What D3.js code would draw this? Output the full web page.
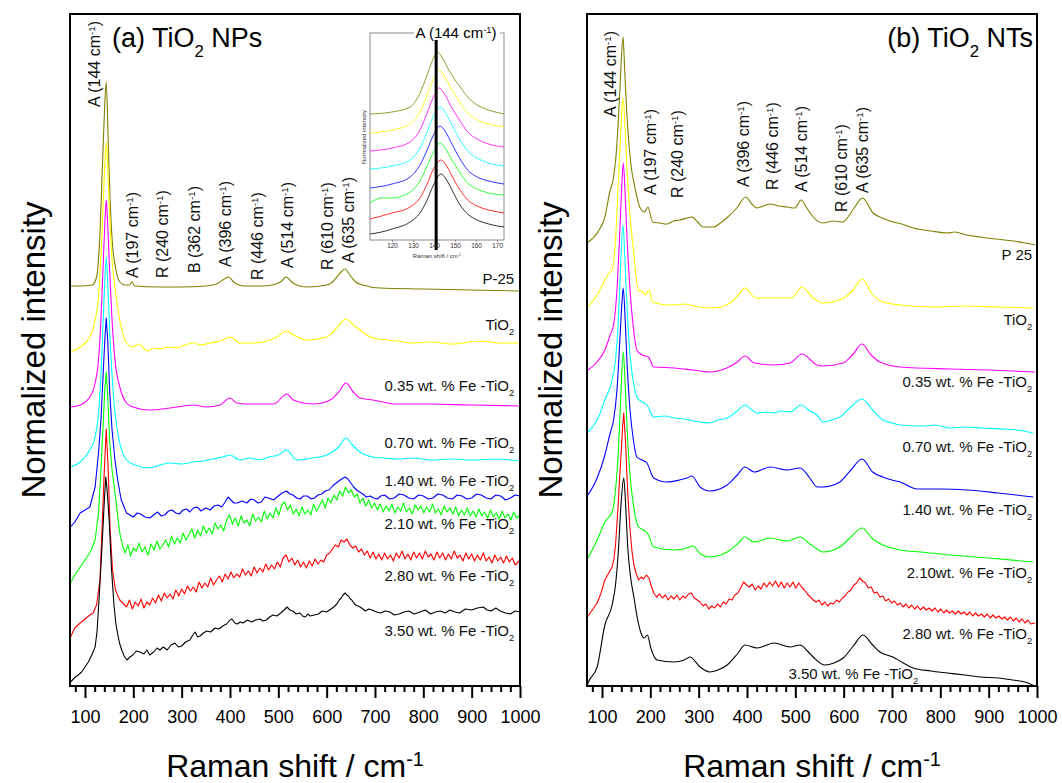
<!DOCTYPE html>
<html>
<head>
<meta charset="utf-8">
<script src="https://cdn.jsdelivr.net/npm/d3@7"></script>
<style>
	body { margin: 0; background: #fff; }
	svg { display: block; font-family: "Liberation Sans", Arial, sans-serif; }
</style>
</head>
<body>
<svg id="chart" width="1062" height="783"></svg>
<script>
/*-------------------------------------------------------*/
/*--------- data: [Raman shift (cm-1), intensity] -------*/
/*-------------------------------------------------------*/

// (a) TiO2 NPs
const npP25 = [[70,400],[90,400],[115,401],[124,409],[131,453],[136,519],[140,571],[144,604],[148,546],[152,486],[157,441],[163,419],[172,404],[183,401],[192,401],[197,404],[203,400],[250,399],[300,399],[350,400],[372,402],[385,406],[396,409],[410,403],[430,400],[470,400],[495,402],[507,405],[516,409],[530,403],[559,399],[600,401],[612,404],[628,413],[638,417],[648,411],[660,404],[675,401],[710,398],[800,397],[900,396],[1000,395]]
const npTiO2 = [[70,334],[90,339],[110,349],[121,366],[128,389],[133,431],[138,486],[141,521],[144,544],[147,521],[151,471],[156,426],[162,399],[172,366],[186,343],[199,339],[212,342],[228,335],[242,338],[255,337],[272,339],[290,338],[307,341],[324,343],[340,341],[359,343],[380,345],[400,349],[421,343],[448,343],[476,345],[497,349],[517,355],[531,351],[559,346],[600,349],[621,358],[640,367],[655,361],[669,356],[696,348],[745,345],[780,343],[814,344],[860,342],[917,345],[960,343],[1000,343]]
const npFe035 = [[70,279],[90,281],[110,289],[121,303],[128,326],[133,366],[138,426],[141,461],[144,486],[147,461],[151,416],[156,366],[162,326],[172,299],[186,283],[199,279],[234,276],[276,278],[324,281],[352,279],[379,281],[400,288],[414,283],[435,282],[490,282],[518,292],[531,286],[572,282],[607,286],[625,294],[640,303],[655,294],[669,288],[696,286],[745,282],[814,282],[900,281],[1000,280]]
const npFe070 = [[70,219],[90,224],[110,236],[121,249],[128,273],[133,311],[138,371],[141,406],[144,428],[147,404],[151,356],[156,311],[162,273],[172,243],[186,226],[203,221],[234,218],[255,221],[276,223],[300,222],[324,224],[345,225],[365,227],[385,229],[400,231],[421,226],[440,228],[462,226],[480,229],[500,231],[517,236],[538,226],[570,228],[600,231],[625,239],[640,248],[655,240],[669,234],[696,229],[720,228],[750,227],[780,228],[814,226],[860,227],[900,226],[950,227],[1000,225]]
const npFe140 = [[70,159],[79,164],[90,173],[110,179],[121,199],[128,233],[133,266],[138,316],[141,346],[144,368],[147,346],[151,296],[156,256],[162,226],[168,205],[175,186],[186,173],[193,171],[200,169],[208,173],[215,172],[224,169],[234,168],[242,171],[250,174],[258,170],[265,171],[273,175],[280,176],[288,173],[295,172],[303,176],[310,177],[317,174],[324,178],[332,179],[340,175],[350,178],[359,176],[367,180],[375,181],[383,179],[390,184],[396,189],[402,186],[408,183],[415,183],[425,185],[435,183],[443,187],[450,186],[458,183],[465,184],[472,189],[480,188],[490,186],[500,190],[508,193],[517,195],[524,192],[530,191],[538,188],[545,187],[552,190],[560,190],[568,187],[575,188],[582,191],[590,192],[597,195],[605,196],[612,200],[620,203],[628,206],[638,209],[644,207],[650,203],[656,199],[662,196],[668,194],[675,192],[682,189],[690,190],[697,188],[705,187],[712,190],[720,191],[730,187],[740,188],[750,192],[760,191],[770,188],[780,187],[790,191],[800,190],[810,187],[820,188],[830,192],[840,191],[850,188],[860,187],[870,191],[880,190],[890,187],[900,188],[910,192],[920,191],[930,188],[940,187],[950,191],[960,190],[970,186],[980,188],[990,191],[1000,190]]
const npFe210 = [[70,103],[79,111],[90,119],[110,133],[121,146],[128,173],[133,216],[138,266],[141,296],[144,314],[147,291],[151,246],[156,216],[162,193],[172,153],[178,140],[183,133],[189,141],[194,130],[200,138],[206,135],[212,143],[218,134],[224,139],[230,131],[237,142],[243,136],[249,145],[255,137],[261,141],[267,146],[273,139],[279,150],[285,142],[291,148],[297,143],[303,153],[309,146],[315,151],[321,157],[327,148],[333,156],[339,150],[345,160],[351,153],[357,158],[363,152],[369,163],[375,157],[381,161],[387,155],[393,166],[399,171],[405,162],[411,168],[417,160],[423,170],[429,163],[435,166],[441,160],[447,172],[453,165],[459,169],[465,164],[471,175],[477,167],[483,173],[489,168],[495,178],[501,171],[507,181],[513,184],[519,176],[525,181],[531,172],[537,177],[543,170],[549,179],[555,172],[561,176],[567,171],[573,182],[579,175],[585,180],[591,186],[597,178],[603,188],[609,183],[615,191],[621,186],[627,195],[633,190],[639,199],[645,193],[651,196],[657,189],[663,192],[669,183],[675,188],[681,180],[687,186],[693,178],[699,183],[705,176],[711,182],[717,174],[723,180],[729,175],[735,182],[741,173],[747,179],[753,175],[759,183],[765,174],[771,178],[777,172],[783,181],[789,176],[795,180],[801,173],[807,179],[813,174],[819,182],[825,173],[831,177],[837,171],[843,180],[849,174],[855,178],[861,172],[867,179],[873,170],[879,176],[885,171],[891,178],[897,170],[903,175],[909,169],[915,177],[921,170],[927,174],[933,168],[939,176],[945,169],[951,173],[957,167],[963,175],[969,168],[975,172],[981,166],[987,174],[993,168],[1000,171]]
const npFe280 = [[70,49],[79,58],[90,63],[110,71],[117,73],[124,81],[131,106],[136,166],[140,216],[144,257],[148,216],[152,156],[157,116],[163,96],[172,86],[180,82],[186,79],[192,86],[198,77],[204,84],[210,80],[216,87],[222,78],[228,84],[234,81],[240,88],[246,83],[252,91],[258,85],[264,93],[270,88],[276,92],[282,87],[288,96],[294,90],[300,97],[306,92],[312,100],[318,95],[324,99],[330,94],[336,104],[342,98],[348,103],[354,99],[360,108],[366,101],[372,106],[378,110],[384,104],[390,112],[396,107],[402,114],[408,108],[414,112],[420,109],[426,117],[432,111],[438,115],[444,110],[450,119],[456,113],[462,118],[468,114],[474,122],[480,116],[486,121],[492,117],[498,124],[504,119],[510,128],[516,131],[522,124],[528,128],[534,121],[540,126],[546,119],[552,124],[558,118],[564,125],[570,120],[576,127],[582,122],[588,126],[594,124],[600,131],[606,133],[612,137],[618,141],[624,139],[630,146],[636,144],[642,147],[648,141],[654,138],[660,140],[666,134],[672,137],[678,131],[684,135],[690,128],[696,134],[702,127],[708,132],[714,126],[720,133],[726,127],[732,131],[738,125],[744,133],[750,128],[756,135],[762,127],[768,132],[774,126],[780,134],[786,128],[792,133],[798,127],[804,135],[810,129],[816,132],[822,126],[828,134],[834,128],[840,133],[846,126],[852,132],[858,127],[864,135],[870,128],[876,131],[882,125],[888,133],[894,127],[900,132],[906,125],[912,131],[918,126],[924,133],[930,125],[936,129],[942,123],[948,131],[954,125],[960,129],[966,123],[972,130],[978,124],[984,128],[990,121],[1000,126]]
const npFe350 = [[70,4],[74,6],[80,9],[86,11],[93,14],[100,19],[107,24],[114,31],[121,39],[125,55],[129,86],[133,120],[137,156],[140,185],[143,209],[146,195],[150,166],[155,116],[160,81],[164,62],[168,51],[172,42],[176,36],[181,30],[187,26],[193,29],[199,31],[206,35],[214,34],[222,32],[228,36],[234,31],[242,34],[249,38],[255,36],[262,39],[270,36],[278,41],[286,43],[293,39],[300,40],[308,44],[317,46],[323,51],[328,54],[333,49],[338,50],[345,53],[352,55],[360,54],[369,58],[377,57],[385,60],[393,62],[400,66],[404,67],[410,63],[415,62],[421,64],[427,63],[436,66],[445,64],[453,66],[462,67],[468,65],[475,66],[482,69],[489,71],[497,70],[505,73],[512,76],[518,79],[524,76],[530,75],[537,72],[545,73],[550,70],[556,69],[561,72],[566,70],[574,71],[583,72],[591,75],[600,74],[606,76],[612,78],[617,80],[621,82],[626,86],[630,88],[634,91],[638,93],[642,91],[645,90],[649,87],[652,86],[656,83],[660,81],[665,80],[669,79],[675,77],[680,75],[687,77],[694,76],[703,74],[712,73],[721,75],[731,74],[740,71],[750,72],[760,74],[770,75],[781,72],[793,74],[804,76],[815,72],[825,74],[835,75],[845,73],[855,76],[865,74],[875,73],[887,77],[900,76],[912,78],[924,79],[932,76],[940,75],[950,78],[959,75],[970,73],[980,72],[990,75],[1000,74]]

// (b) TiO2 NTs
const ntP25 = [[69,443],[90,453],[106,469],[117,496],[123,506],[130,536],[136,586],[140,626],[143.5,649],[147,616],[151,576],[154,553],[160,521],[168,499],[179,478],[188,474],[195,479],[205,464],[220,463],[234,462],[248,465],[261,466],[286,469],[298,464],[309,459],[330,459],[345,463],[358,468],[379,478],[397,489],[410,482],[420,478],[448,482],[465,480],[483,479],[499,478],[512,486],[525,477],[537,469],[557,463],[578,465],[598,464],[619,476],[639,488],[661,473],[680,468],[702,464],[720,462],[744,458],[780,455],[814,453],[830,454],[855,451],[882,449],[915,447],[951,445],[975,443],[996,441]]
const ntTiO2 = [[71,379],[90,391],[106,406],[117,414],[121,416],[128,446],[134,506],[139,556],[143.5,588],[148,556],[152,516],[158,471],[165,436],[175,396],[187,393],[190,391],[197,396],[205,384],[240,381],[270,382],[300,379],[330,378],[365,383],[380,390],[396,398],[418,388],[460,388],[492,388],[514,399],[537,388],[559,383],[600,388],[620,396],[638,407],[660,391],[681,384],[717,381],[785,379],[850,380],[920,379],[992,378]]
const ntFe035 = [[71,316],[90,324],[106,336],[117,351],[124,361],[131,396],[137,456],[141,501],[144,523],[148,491],[152,446],[158,396],[165,358],[172,336],[183,331],[196,329],[207,319],[249,318],[287,316],[323,314],[358,318],[380,324],[396,330],[415,323],[456,321],[489,323],[514,332],[545,321],[557,320],[599,323],[620,332],[638,342],[655,332],[675,324],[717,319],[820,317],[900,316],[996,314]]
const ntFe070 = [[71,254],[90,266],[106,286],[121,306],[128,326],[134,366],[139,426],[143.5,461],[148,421],[152,376],[158,331],[165,304],[172,289],[183,284],[193,281],[207,269],[230,270],[249,268],[270,267],[290,265],[305,264],[323,263],[340,266],[359,268],[380,275],[396,281],[410,276],[421,273],[440,274],[456,273],[470,275],[489,274],[512,281],[530,275],[545,271],[557,264],[575,266],[592,269],[615,279],[638,287],[660,276],[681,266],[700,263],[717,261],[760,260],[790,261],[820,258],[850,259],[888,258],[930,257],[960,256],[992,253]]
const ntFe140 = [[71,191],[90,208],[106,231],[117,253],[124,266],[131,296],[137,346],[141,381],[144,398],[148,366],[152,321],[158,276],[165,246],[172,229],[183,226],[193,223],[207,208],[234,204],[260,206],[276,208],[286,210],[303,199],[323,195],[359,201],[380,211],[396,219],[415,214],[448,219],[483,216],[510,218],[530,208],[545,199],[557,199],[592,204],[615,216],[638,227],[660,214],[681,209],[700,206],[717,204],[752,197],[800,197],[855,196],[920,193],[992,189]]
const ntFe210 = [[71,128],[90,146],[106,164],[121,174],[128,196],[134,236],[139,291],[144,334],[148,301],[152,256],[158,211],[165,181],[176,159],[186,156],[195,152],[207,139],[249,136],[276,138],[288,140],[304,132],[323,129],[359,134],[380,142],[396,149],[414,144],[448,148],[483,145],[510,149],[530,142],[545,137],[557,134],[592,139],[615,149],[638,158],[660,147],[681,141],[717,136],[760,134],[820,131],[900,128],[992,124]]
const ntFe280 = [[70,69],[80,76],[90,83],[98,93],[106,106],[114,113],[121,119],[125,128],[128,141],[131,162],[134,186],[137,212],[140,236],[142.5,258],[145,273],[147,258],[149,241],[151,218],[153,196],[156,172],[159,151],[162,135],[166,121],[171,112],[176,106],[181,109],[186,107],[192,111],[197,108],[202,100],[207,93],[213,89],[219,92],[225,88],[231,91],[237,86],[243,90],[249,87],[255,91],[261,86],[267,90],[273,88],[279,92],[285,93],[291,88],[297,86],[303,84],[309,80],[315,82],[321,77],[327,80],[333,78],[339,82],[345,79],[351,84],[357,82],[363,87],[369,86],[375,91],[381,93],[387,98],[393,104],[399,101],[405,99],[411,102],[417,96],[423,100],[429,97],[435,103],[441,99],[447,104],[453,100],[459,105],[465,99],[471,104],[477,98],[483,103],[489,99],[495,104],[501,98],[507,103],[513,99],[519,96],[525,92],[531,89],[537,86],[543,84],[549,86],[555,81],[561,84],[567,80],[573,83],[579,82],[585,86],[591,84],[597,88],[603,90],[609,94],[615,96],[621,101],[627,103],[633,108],[639,105],[645,103],[651,98],[657,99],[663,93],[669,94],[675,89],[681,90],[687,85],[693,87],[699,83],[705,85],[711,81],[717,83],[723,79],[729,82],[735,78],[741,81],[747,77],[753,80],[759,76],[765,79],[771,76],[777,78],[783,75],[789,78],[795,74],[801,77],[807,73],[813,76],[819,73],[825,75],[831,72],[837,75],[843,72],[849,74],[855,71],[861,74],[867,70],[873,73],[879,70],[885,72],[891,69],[897,72],[903,68],[909,71],[915,68],[921,70],[927,67],[933,69],[939,66],[945,69],[951,65],[957,68],[963,64],[969,67],[975,63],[981,66],[987,62],[996,63]]
const ntFe350 = [[69,0],[71,3],[90,19],[106,61],[121,81],[128,101],[134,136],[140,186],[145,208],[149,181],[153,141],[160,106],[166,89],[172,71],[180,54],[187,48],[194,51],[201,38],[214,26],[249,24],[270,26],[282,29],[303,19],[323,14],[340,16],[359,21],[380,32],[396,41],[421,38],[456,43],[489,39],[510,41],[525,35],[537,29],[561,21],[580,23],[599,28],[620,40],[640,51],[660,41],[675,34],[702,29],[720,24],[744,18],[780,15],[814,13],[850,11],[882,9],[920,8],[950,6],[975,4],[996,0]]

// inset of (a): zoom on the 144 cm-1 band
const insetP25 = [[109.5,126],[120,128],[128.6,133],[133.3,147],[136.7,165],[139,178],[141.4,188],[144,182],[147,170],[152.4,153],[156,143],[160.5,135],[166,130],[173.3,126]]
const insetTiO2 = [[109.5,107],[120,110],[128.6,116],[133.3,128],[136.7,145],[139.5,160],[142.4,170],[145,164],[148,152],[152.4,137],[156,127],[160.5,120],[166,116],[173.3,113]]
const insetFe035 = [[109.5,89],[120,92],[128.6,98],[133.3,110],[136.7,127],[139.5,142],[142.4,152],[145,146],[148,134],[152.4,119],[156,108],[160.5,101],[166,96],[173.3,93]]
const insetFe070 = [[109.5,71],[120,74],[128.6,80],[133.3,92],[136.7,108],[139.5,123],[142.9,133],[145.5,127],[148.5,115],[152.4,100],[156,89],[160.5,82],[166,77],[173.3,74]]
const insetFe140 = [[109.5,52],[120,56],[128.6,63],[133.3,75],[136.7,90],[139.5,104],[142.9,114],[145.5,108],[148.5,96],[152.4,81],[156,70],[160.5,63],[166,59],[173.3,56]]
const insetFe210 = [[109.5,37],[115,42],[120,42],[128.6,48],[133.3,59],[136.7,74],[139.5,87],[142.9,97],[145.5,91],[148.5,80],[152.4,67],[156,57],[160.5,51],[166,47],[173.3,45]]
const insetFe280 = [[109.5,21],[120,27],[128.6,33],[133.3,42],[136.7,56],[139.5,70],[143.3,80],[146,74],[149,62],[152.4,50],[156,40],[160.5,34],[166,30],[173.3,27]]
const insetFe350 = [[109.5,6],[115,8],[120,11],[128.6,18],[133.3,27],[136.7,40],[139.5,54],[143.3,66],[146,60],[149,48],[152.4,35],[156,26],[160.5,20],[166,16],[173.3,13]]
const insetMarker = 141

const seriesColors = ['#808000', '#ffff00', '#ff00ff', '#00ffff', '#0000ff', '#00ff00', '#ff0000', '#000000']
const npSeries = [npP25, npTiO2, npFe035, npFe070, npFe140, npFe210, npFe280, npFe350]
const ntSeries = [ntP25, ntTiO2, ntFe035, ntFe070, ntFe140, ntFe210, ntFe280, ntFe350]
const insetSeries = [insetP25, insetTiO2, insetFe035, insetFe070, insetFe140, insetFe210, insetFe280, insetFe350]

const npNames = ['P-25', 'TiO_{2}', '0.35 wt. % Fe -TiO_{2}', '0.70 wt. % Fe -TiO_{2}', '1.40 wt. % Fe -TiO_{2}', '2.10 wt. % Fe -TiO_{2}', '2.80 wt. % Fe -TiO_{2}', '3.50 wt. % Fe -TiO_{2}']
const ntNames = ['P 25', 'TiO_{2}', '0.35 wt. % Fe -TiO_{2}', '0.70 wt. % Fe -TiO_{2}', '1.40 wt. % Fe -TiO_{2}', '2.10wt. % Fe -TiO_{2}', '2.80 wt. % Fe -TiO_{2}', '3.50 wt. % Fe -TiO_{2}']

const npBands = ['A (144 cm^{-1})', 'A (197 cm^{-1})', 'R (240 cm^{-1})', 'B (362 cm^{-1})', 'A (396 cm^{-1})', 'R (446 cm^{-1})', 'A (514 cm^{-1})', 'R (610 cm^{-1})', 'A (635 cm^{-1})']
const ntBands = ['A (144 cm^{-1})', 'A (197 cm^{-1})', 'R (240 cm^{-1})', 'A (396 cm^{-1})', 'R (446 cm^{-1})', 'A (514 cm^{-1})', 'R (610 cm^{-1})', 'A (635 cm^{-1})']

const majorTicks = [100, 200, 300, 400, 500, 600, 700, 800, 900, 1000]
const insetTicks = [120, 130, 140, 150, 160, 170]

/*-------------------------------------------------------*/
/*-------------- layout (label anchors, data units) -----*/
/*-------------------------------------------------------*/

// [x in cm-1, bottom of rotated text in intensity units]
const npBandPos = [[120,579],[197,408],[259,408],[327,413],[390,419],[456,406],[518,418],[601,416],[645,423]]
const ntBandPos = [[116.5,569],[199,491],[255,488],[392,499],[452,496],[512,494],[594.5,474],[638,493]]
// [right end in cm-1, baseline in intensity units]
const npNamePos = [[988,402],[988,356],[988,295],[988,238],[988,200],[988,157],[988,105],[988,50]]
const ntNamePos = [[990,426],[990,361],[990,299],[990,234],[990,171],[990,108],[990,47],[754,7]]
// the noisy spectra are joined straight, point to point
const npNoisy = [4, 5, 6, 7]
const ntNoisy = [6]

const svg = d3.select('#chart')
const y = d3.scaleLinear().domain([0, 672]).range([686, 14])

// text with ^{sup} and _{sub} parts
function richText(textSel, str, size) {
	str.split(/(\^\{[^}]*\}|_\{[^}]*\})/).filter(s => s.length).forEach(s => {
		if (s.startsWith('^{')) {
			textSel.append('tspan').attr('baseline-shift', 'super').attr('font-size', size * 0.62).text(s.slice(2, -1))
		} else if (s.startsWith('_{')) {
			textSel.append('tspan').attr('baseline-shift', 'sub').attr('font-size', size * 0.62).text(s.slice(2, -1))
		} else {
			textSel.append('tspan').text(s)
		}
	})
	return textSel
}

function drawPanel(id, left, right, series, noisy, names, namePos, bands, bandPos, title, titleX, titleAnchor) {
	const x = d3.scaleLinear().domain([69, 1000]).range([left, right])
	const g = svg.append('g').attr('id', id)

	g.append('clipPath').attr('id', id + '-clip')
		.append('rect').attr('x', left).attr('y', 14).attr('width', right - left).attr('height', 672)

	const smooth = d3.line().x(d => x(d[0])).y(d => y(d[1])).curve(d3.curveMonotoneX)
	const rough = d3.line().x(d => x(d[0])).y(d => y(d[1]))

	g.append('g').attr('clip-path', `url(#${id}-clip)`)
		.selectAll('path')
		.data(series)
		.join('path')
		.attr('d', (d, i) => noisy.includes(i) ? rough(d) : smooth(d))
		.attr('fill', 'none')
		.attr('stroke', (d, i) => seriesColors[i])
		.attr('stroke-width', 1.1)
		.attr('stroke-linejoin', 'round')

	// sample names at the right
	names.forEach((name, i) => {
		richText(g.append('text')
			.attr('x', x(namePos[i][0]))
			.attr('y', y(namePos[i][1]))
			.attr('text-anchor', 'end')
			.attr('font-size', 15)
			.attr('fill', '#111'), name, 15)
	})

	// band assignments, rotated
	bands.forEach((b, i) => {
		richText(g.append('text')
			.attr('transform', `translate(${x(bandPos[i][0])},${y(bandPos[i][1])}) rotate(-90)`)
			.attr('dy', '0.36em')
			.attr('font-size', 16)
			.attr('fill', '#111'), b, 16)
	})

	// x axis: major and minor ticks
	const minor = d3.range(80, 1001, 20).filter(v => v % 100 !== 0)
	g.append('g')
		.attr('transform', 'translate(0,686)')
		.call(d3.axisBottom(x).tickValues(minor).tickSize(6).tickFormat(''))
		.call(a => a.select('.domain').remove())
		.call(a => a.selectAll('line').attr('stroke-width', 2))
	g.append('g')
		.attr('transform', 'translate(0,686)')
		.call(d3.axisBottom(x).tickValues(majorTicks).tickSize(12).tickPadding(12).tickFormat(d3.format('d')))
		.call(a => a.select('.domain').remove())
		.call(a => a.selectAll('line').attr('stroke-width', 2))
		.call(a => a.selectAll('text').attr('font-size', 18).attr('font-family', '"Liberation Sans", Arial, sans-serif').attr('fill', '#000'))

	// frame
	g.append('rect')
		.attr('x', left).attr('y', 14).attr('width', right - left).attr('height', 672)
		.attr('fill', 'none').attr('stroke', '#000').attr('stroke-width', 2)

	// titles
	richText(g.append('text').attr('x', titleX).attr('y', 47).attr('text-anchor', titleAnchor).attr('font-size', 27), title, 27)

	richText(g.append('text')
		.attr('x', (left + right) / 2).attr('y', 777)
		.attr('text-anchor', 'middle').attr('font-size', 32), 'Raman shift / cm^{-1}', 32)

	g.append('text')
		.attr('transform', `translate(${left - 37},350) rotate(-90)`)
		.attr('dy', '0.36em')
		.attr('text-anchor', 'middle')
		.attr('font-size', 33)
		.text('Normalized intensity')
}

drawPanel('panel-a', 70, 520, npSeries, npNoisy, npNames, npNamePos, npBands, npBandPos, '(a) TiO_{2} NPs', 112, 'start')
drawPanel('panel-b', 587, 1037, ntSeries, ntNoisy, ntNames, ntNamePos, ntBands, ntBandPos, '(b) TiO_{2} NTs', 1033, 'end')

/*-------------------------------------------------------*/
/*------------------------ inset -----------------------*/
/*-------------------------------------------------------*/

const xi = d3.scaleLinear().domain([109.5, 173.3]).range([370, 504])
const yi = d3.scaleLinear().domain([0, 207]).range([240, 33])
const inset = svg.append('g').attr('id', 'inset')

inset.append('rect').attr('x', 370).attr('y', 33).attr('width', 134).attr('height', 207)
	.attr('fill', '#fff').attr('stroke', '#8c8c8c').attr('stroke-width', 1)

inset.selectAll('path.spec')
	.data(insetSeries)
	.join('path')
	.attr('class', 'spec')
	.attr('d', d3.line().x(d => xi(d[0])).y(d => yi(d[1])).curve(d3.curveMonotoneX))
	.attr('fill', 'none')
	.attr('stroke', (d, i) => seriesColors[i])
	.attr('stroke-width', 0.8)

inset.append('line')
	.attr('x1', xi(insetMarker)).attr('x2', xi(insetMarker))
	.attr('y1', 36).attr('y2', 250)
	.attr('stroke', '#000').attr('stroke-width', 3)

inset.append('g')
	.attr('transform', 'translate(0,240)')
	.call(d3.axisBottom(xi).tickValues(insetTicks).tickSize(2).tickPadding(1))
	.call(a => a.select('.domain').remove())
	.call(a => a.selectAll('line').attr('stroke', '#8c8c8c'))
	.call(a => a.selectAll('text').attr('font-size', 6.5).attr('font-family', '"Liberation Sans", Arial, sans-serif').attr('fill', '#333'))

richText(inset.append('text').attr('x', 437).attr('y', 258).attr('text-anchor', 'middle').attr('font-size', 6).attr('fill', '#333'), 'Raman shift / cm^{-1}', 6)

inset.append('text')
	.attr('transform', 'translate(364,137) rotate(-90)')
	.attr('text-anchor', 'middle').attr('dy', '0.35em')
	.attr('font-size', 6).attr('fill', '#333')
	.text('Normalized intensity')

inset.append('rect').attr('x', 414).attr('y', 24).attr('width', 86).attr('height', 16).attr('fill', '#fff')
richText(inset.append('text').attr('x', 456).attr('y', 38).attr('text-anchor', 'middle').attr('font-size', 15), 'A (144 cm^{-1})', 15)
</script>
</body>
</html>
